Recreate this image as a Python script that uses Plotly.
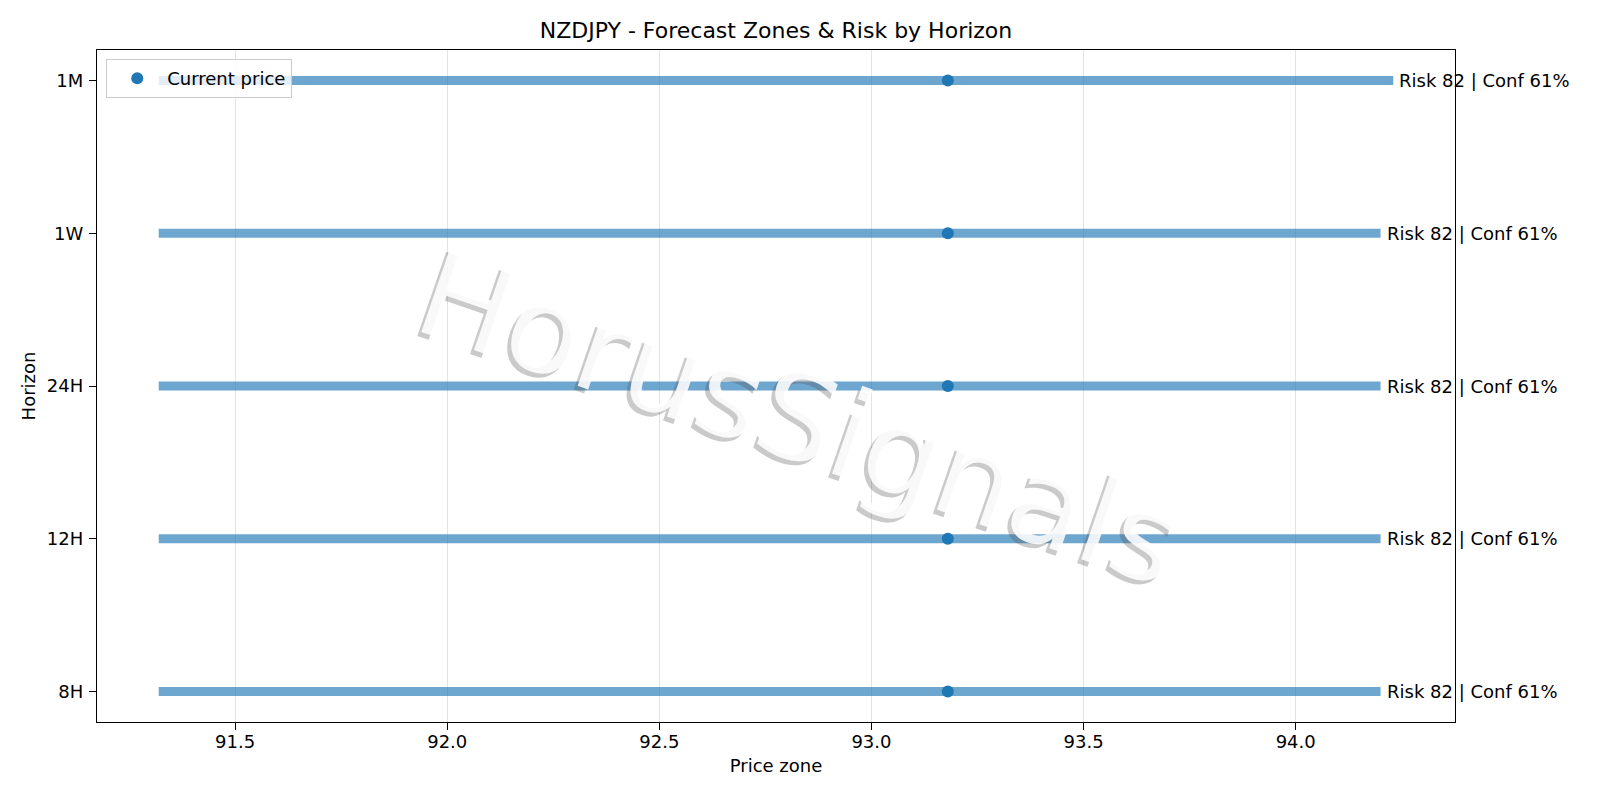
##importing the required modules
import plotly.graph_objects as go

##data
horizons = ["8H", "12H", "24H", "1W", "1M"]
zone_low = [91.32, 91.32, 91.32, 91.32, 91.32]
zone_high = [94.20, 94.20, 94.20, 94.20, 94.23]
risk = [82, 82, 82, 82, 82]
conf = [61, 61, 61, 61, 61]
current_price = 93.18

FONT = "DejaVu Sans"
BLUE = "#1f77b4"

fig = go.Figure()

##one thick line per horizon for the forecast zone
for h, lo, hi in zip(horizons, zone_low, zone_high):
    fig.add_trace(go.Scatter(x=[lo, hi], y=[h, h], mode="lines",
                             line=dict(color="rgba(31,119,180,0.65)", width=9),
                             showlegend=False, hoverinfo="skip"))

##current price dots
fig.add_trace(go.Scatter(x=[current_price] * len(horizons), y=horizons, mode="markers",
                         marker=dict(color=BLUE, size=12), name="Current price"))

##risk / confidence text next to each zone
for h, hi, r, c in zip(horizons, zone_high, risk, conf):
    fig.add_annotation(x=hi, y=h, xref="x", yref="y", text=f"Risk {r} | Conf {c}%",
                       showarrow=False, xanchor="left", yanchor="middle", xshift=4,
                       font=dict(family=FONT, size=18, color="black"))

##watermark with a soft shadow (shadow sits down-left of the text)
wm_x, wm_y, wm_angle = 0.5178, 0.4524, 19
fig.add_annotation(x=wm_x, y=wm_y, xref="paper", yref="paper", text="HorusSignals",
                   showarrow=False, textangle=wm_angle, xshift=-4, yshift=-4,
                   font=dict(family=FONT, size=122, color="rgba(80,80,80,0.3)"))
fig.add_annotation(x=wm_x, y=wm_y, xref="paper", yref="paper", text="HorusSignals",
                   showarrow=False, textangle=wm_angle,
                   font=dict(family=FONT, size=122, color="rgba(255,255,255,0.88)"))

##axis ranges with 5% padding like the original
xmin, xmax = min(zone_low), max(zone_high)
xpad = 0.05 * (xmax - xmin)
ypad = 0.05 * (len(horizons) - 1)

##page has an 8px body margin, so the figure is 8px smaller and margins shifted
fig.update_layout(
    width=1592, height=792,
    margin=dict(l=89, r=145, t=42, b=78),
    paper_bgcolor="white", plot_bgcolor="white",
    font=dict(family=FONT, size=18, color="black"),
    title=dict(text="NZDJPY - Forecast Zones & Risk by Horizon", xref="paper", x=0.5,
               xanchor="center", yref="container", y=0.9722, yanchor="middle",
               font=dict(size=22, color="black")),
    legend=dict(x=0.0068, y=0.9866, xanchor="left", yanchor="top", itemwidth=50,
                bgcolor="rgba(255,255,255,0.8)", bordercolor="#cccccc", borderwidth=1,
                font=dict(size=18)),
)
fig.update_xaxes(range=[xmin - xpad, xmax + xpad], dtick=0.5, tickformat=".1f",
                 showgrid=True, gridcolor="#e3e3e3", gridwidth=1, zeroline=False,
                 showline=True, linecolor="black", linewidth=1.2, mirror=True,
                 ticks="outside", ticklen=7, tickcolor="black", ticklabelstandoff=-4,
                 title=dict(text="Price zone", standoff=8, font=dict(size=18)))
fig.update_yaxes(type="category", categoryorder="array", categoryarray=horizons,
                 range=[-ypad, len(horizons) - 1 + ypad],
                 showgrid=False, zeroline=False,
                 showline=True, linecolor="black", linewidth=1.2, mirror=True,
                 ticks="outside", ticklen=7, tickcolor="black", ticklabelstandoff=2,
                 title=dict(text="Horizon", standoff=6, font=dict(size=18)))

fig.write_html("out.html")
